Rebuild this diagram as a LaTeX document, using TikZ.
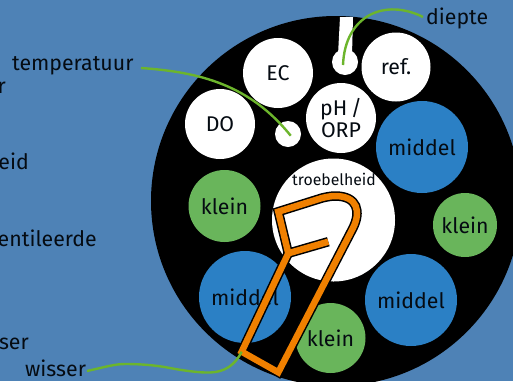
\documentclass[tikz,border=0pt]{standalone}
\usepackage{fontspec}
\setmainfont{Fira Sans}
\definecolor{bgc}{HTML}{4E82B6}
\definecolor{bluec}{HTML}{2B80C5}
\definecolor{greenc}{HTML}{69B55B}
\definecolor{linec}{HTML}{6CB52C}
\definecolor{orangec}{HTML}{F08000}
\definecolor{txt}{HTML}{050B12}
\tikzset{
  pad/.style={circle,inner sep=0pt,minimum size=#1*2pt,text=txt,font=\fontsize{21.3}{23}\selectfont,align=center},
  whitepad/.style={pad=#1,fill=white},
  bluepad/.style={pad=#1,fill=bluec},
  greenpad/.style={pad=#1,fill=greenc},
  lab/.style={text=txt,inner sep=0pt,font=\fontsize{21.3}{23}\selectfont},
  lead/.style={draw=linec,line width=2.4pt},
  wiperback/.style={draw=black,line width=9.5pt,miter limit=10},
  wiperfront/.style={draw=orangec,line width=6.5pt,miter limit=10},
}
\begin{document}
\begin{tikzpicture}[x=1pt,y=-1pt]
\clip (0,0) rectangle (513,381);
\fill[bgc] (0,0) rectangle (513,381);
\fill[black] (336,201) circle[radius=185];
\fill[white] (340,17) -- (353,17) -- (352,55) -- (338,55) -- cycle;
\node[whitepad=13] (sd) at (345,62) {};
\node[whitepad=13] (st) at (288,134) {};
\node[whitepad=34.5] (ref) at (396,67) {ref.};
\node[whitepad=35] (ec) at (278,73) {EC};
\node[whitepad=35] (do) at (220,124) {DO};
\node[whitepad=35] (ph) at (341,118) {pH\,/\\[-1pt]ORP};
\node[whitepad=61.5] (tr) at (333.5,220) {};
\node[text=txt,inner sep=0pt,font=\fontsize{15.8}{17}\selectfont] (trl) at (334,179) {troebelheid};
\node[bluepad=46] (m1) at (422,147) {middel};
\node[bluepad=46] (m2) at (245,297) {middel};
\node[bluepad=46] (m3) at (411,300) {middel};
\node[greenpad=36] (k1) at (224.5,206) {klein};
\node[greenpad=32] (k2) at (465,225) {klein};
\node[greenpad=35] (k3) at (330.5,338) {klein};
\coordinate (a) at (241.7,351.7);
\coordinate (b) at (278.3,372.3);
\coordinate (j) at (288.3,253.3);
\coordinate (e) at (328.3,241.7);
\coordinate (c) at (278.3,211.7);
\path[wiperback] (a) -- (b) -- (353,228) .. controls (361,212) and (358,196) .. (335,196) .. controls (331,196) and (326,197) .. (322,198) -- (c) -- (j) -- cycle;
\path[wiperback] (j) -- (e);
\path[wiperfront] (a) -- (b) -- (353,228) .. controls (361,212) and (358,196) .. (335,196) .. controls (331,196) and (326,197) .. (322,198) -- (c) -- (j) -- cycle;
\path[wiperfront] (j) -- (e);
\node[lab,anchor=base west] (t) at (12,70) {temperatuur};
\node[lab,anchor=base west] (d) at (426,24) {diepte};
\node[lab,anchor=base west] (w) at (25,376) {wisser};
\node[lab,anchor=base east] (l1) at (6,93) {r};
\node[lab,anchor=base east] (l2) at (29,169) {eid};
\node[lab,anchor=base east] (l3) at (97,246) {entileerde};
\node[lab,anchor=base east] (l4) at (29,349) {ser};
\coordinate (tstart) at (141,68);
\coordinate (tend) at (290.7,135.7);
\coordinate (dstart) at (423,17);
\coordinate (dend) at (343,65);
\coordinate (wstart) at (87,371);
\draw[lead] (tstart) .. controls (200,72) and (250,85) .. (tend);
\draw[lead] (dstart) .. controls (385,-2) and (345,15) .. (dend);
\draw[lead] (wstart) .. controls (105,367) and (115,364) .. (125,364) .. controls (145,364) and (160,366) .. (170,368) .. controls (180,370) and (200,373) .. (210,372.5) .. controls (225,372) and (235,365) .. (a);
\end{tikzpicture}
\end{document}
